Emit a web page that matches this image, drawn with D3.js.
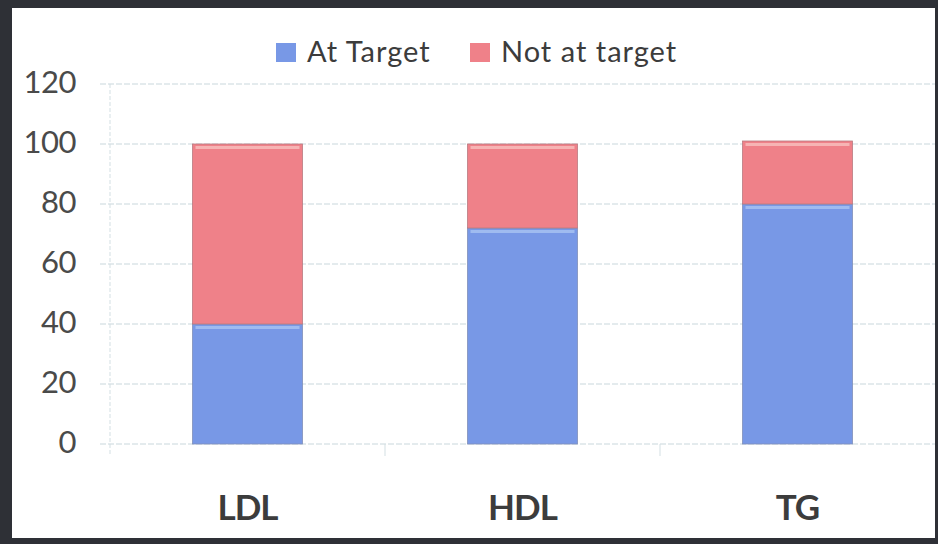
<!DOCTYPE html>
<html><head><meta charset="utf-8">
<script src="https://cdn.jsdelivr.net/npm/d3@7"></script>
<style>html,body{margin:0;padding:0;background:#fff;}svg{display:block;}</style>
</head><body>
<svg id="chart" width="938" height="544"></svg>
<script>
const categories = ["LDL", "HDL", "TG"];
const atTarget = [40, 72, 80];
const notAtTarget = [60, 28, 21];
const seriesNames = ["At Target", "Not at target"];
const yTicks = [0, 20, 40, 60, 80, 100, 120];

const W = 938, H = 544;
const svg = d3.select("#chart");
const font = "Lato, 'Open Sans', sans-serif";

// frame
svg.append("rect").attr("x",0).attr("y",0).attr("width",W).attr("height",H).attr("fill","#2e3036");
svg.append("rect").attr("x",12).attr("y",8).attr("width",W-15).attr("height",H-14).attr("fill","#ffffff");

const plot = {left:110, right:935, top:84, bottom:444};
const x = d3.scaleBand().domain(categories).range([plot.left, plot.right]).paddingInner(0).paddingOuter(0);
const y = d3.scaleLinear().domain([0,120]).range([plot.bottom, plot.top]);

// gridlines
svg.append("g").selectAll("line").data(yTicks).join("line")
  .attr("x1", plot.left-10).attr("x2", plot.right)
  .attr("y1", d=>y(d)).attr("y2", d=>y(d))
  .attr("stroke", "#c9d7dc").attr("stroke-width",1).attr("stroke-dasharray","6,2");

// y axis line
svg.append("line").attr("x1",plot.left).attr("x2",plot.left).attr("y1",plot.top).attr("y2",plot.bottom+10)
  .attr("stroke","#d3dfe3").attr("stroke-dasharray","4,2");
// category ticks
svg.append("g").selectAll("line").data(categories.slice(1)).join("line")
  .attr("x1", d=>x(d)).attr("x2", d=>x(d)).attr("y1", plot.bottom).attr("y2", plot.bottom+12)
  .attr("stroke","#d3dfe3");

// y tick labels
svg.append("g").selectAll("text").data(yTicks).join("text")
  .attr("x", 76).attr("y", d=>y(d)-2).attr("dy","0.36em")
  .attr("text-anchor","end").attr("font-family",font).attr("font-size",31)
  .attr("letter-spacing","-0.5px")
  .attr("fill","#4a4a4a").text(d=>d);

const colors = ["#7898e6", "#ef8189"];
const stackData = categories.map((c,i)=>({cat:c, a:atTarget[i], n:notAtTarget[i]}));
const stack = d3.stack().keys(["a","n"])(stackData);
const bw = x.bandwidth()*0.4;

const bars = svg.append("g");
stack.forEach((layer,li)=>{
  bars.selectAll(null).data(layer).join("rect")
    .attr("x", d=>x(d.data.cat)+x.bandwidth()/2-bw/2)
    .attr("width", bw)
    .attr("y", d=>y(d[1]))
    .attr("height", d=>y(d[0])-y(d[1]))
    .attr("fill", colors[li])
    .attr("stroke", li===0 ? "#8090b8" : "#b87a80").attr("stroke-width",0.8);
});
// light top highlight on each segment
stack.forEach((layer,li)=>{
  bars.selectAll(null).data(layer).join("rect")
    .attr("x", d=>x(d.data.cat)+x.bandwidth()/2-bw/2+3)
    .attr("width", bw-6)
    .attr("y", d=>y(d[1])+2)
    .attr("height", 3)
    .attr("fill", li===0 ? "#a9c4f2" : "#f7c0bf").attr("opacity",0.8);
});

// category labels
svg.append("g").selectAll("text").data(categories).join("text")
  .attr("x", d=>x(d)+x.bandwidth()/2).attr("y", 507).attr("dy","0.36em")
  .attr("text-anchor","middle").attr("font-family",font).attr("font-weight","bold")
  .attr("font-size",35).attr("letter-spacing","-1px").attr("fill","#3c3c3c").text(d=>d);

// legend
const leg = svg.append("g");
const legX = [276, 470];
seriesNames.forEach((s,i)=>{
  leg.append("rect").attr("x",legX[i]).attr("y",43).attr("width",20).attr("height",19).attr("fill",colors[i]);
  leg.append("text").attr("x",legX[i]+31).attr("y",52).attr("dy","0.36em")
    .attr("font-family",font).attr("font-size",29).attr("letter-spacing","1px")
    .attr("fill","#3c3c3c").text(s);
});
</script>
</body></html>
